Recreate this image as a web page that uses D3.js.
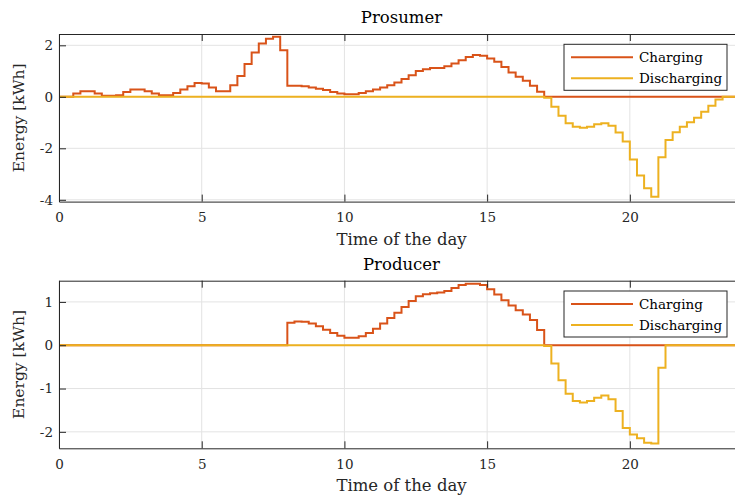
<!DOCTYPE html>
<html>
<head>
<meta charset="utf-8">
<script src="https://cdn.jsdelivr.net/npm/d3@7"></script>
<style>
  body { margin: 0; background: #fff; }
  svg { display: block; font-family: "DejaVu Serif", "Liberation Serif", serif; }
  .grid line { stroke: #e3e3e3; stroke-width: 1; }
  .tick text { fill: #262626; font-size: 13.5px; font-family: "DejaVu Serif", serif; }
</style>
</head>
<body>
<div id="vis"></div>
<script>
// energy per 15 min step, 96 steps (0 .. 23.75 h)
const hours = d3.range(96).map(i => i * 0.25);

const prosumerCharging = [
  0, 0, 0.13, 0.22, 0.22, 0.13, 0.04, 0.04, 0.06, 0.19, 0.28, 0.28, 0.22, 0.13, 0.06, 0.06,
  0.15, 0.28, 0.41, 0.54, 0.52, 0.36, 0.22, 0.22, 0.45, 0.81, 1.27, 1.72, 2.07, 2.26, 2.33, 1.81,
  0.43, 0.43, 0.41, 0.36, 0.31, 0.26, 0.19, 0.13, 0.10, 0.10, 0.15, 0.22, 0.28, 0.36, 0.45, 0.56,
  0.69, 0.84, 1.00, 1.07, 1.12, 1.12, 1.19, 1.29, 1.42, 1.55, 1.62, 1.60, 1.49, 1.36, 1.16, 0.94,
  0.78, 0.62, 0.43, 0.20, 0, 0, 0, 0, 0, 0, 0, 0, 0, 0, 0, 0,
  0, 0, 0, 0, 0, 0, 0, 0, 0, 0, 0, 0, 0, 0, 0, 0
];
const prosumerDischarging = [
  0, 0, 0, 0, 0, 0, 0, 0, 0, 0, 0, 0, 0, 0, 0, 0,
  0, 0, 0, 0, 0, 0, 0, 0, 0, 0, 0, 0, 0, 0, 0, 0,
  0, 0, 0, 0, 0, 0, 0, 0, 0, 0, 0, 0, 0, 0, 0, 0,
  0, 0, 0, 0, 0, 0, 0, 0, 0, 0, 0, 0, 0, 0, 0, 0,
  0, 0, 0, 0, -0.04, -0.39, -0.74, -1.03, -1.16, -1.20, -1.16, -1.07, -1.03, -1.12, -1.39, -1.74,
  -2.43, -3.06, -3.55, -3.88, -2.35, -1.68, -1.38, -1.16, -0.99, -0.81, -0.58, -0.35, -0.10, 0, 0, 0
];
const producerCharging = [
  0, 0, 0, 0, 0, 0, 0, 0, 0, 0, 0, 0, 0, 0, 0, 0,
  0, 0, 0, 0, 0, 0, 0, 0, 0, 0, 0, 0, 0, 0, 0, 0,
  0.52, 0.55, 0.54, 0.50, 0.44, 0.36, 0.28, 0.22, 0.17, 0.17, 0.21, 0.28, 0.38, 0.50, 0.63, 0.75,
  0.88, 1.02, 1.13, 1.18, 1.20, 1.22, 1.25, 1.32, 1.39, 1.42, 1.42, 1.39, 1.29, 1.17, 1.04, 0.92,
  0.81, 0.71, 0.58, 0.35, 0, 0, 0, 0, 0, 0, 0, 0, 0, 0, 0, 0,
  0, 0, 0, 0, 0, 0, 0, 0, 0, 0, 0, 0, 0, 0, 0, 0
];
const producerDischarging = [
  0, 0, 0, 0, 0, 0, 0, 0, 0, 0, 0, 0, 0, 0, 0, 0,
  0, 0, 0, 0, 0, 0, 0, 0, 0, 0, 0, 0, 0, 0, 0, 0,
  0, 0, 0, 0, 0, 0, 0, 0, 0, 0, 0, 0, 0, 0, 0, 0,
  0, 0, 0, 0, 0, 0, 0, 0, 0, 0, 0, 0, 0, 0, 0, 0,
  0, 0, 0, 0, -0.02, -0.42, -0.81, -1.12, -1.29, -1.32, -1.29, -1.21, -1.16, -1.25, -1.52, -1.91,
  -2.06, -2.15, -2.25, -2.27, -0.52, 0, 0, 0, 0, 0, 0, 0, 0, 0, 0, 0
];

const xTicks = [0, 5, 10, 15, 20];
const seriesNames = ["Charging", "Discharging"];
const COLORS = ["#D95319", "#EDB120"];

const WIDTH = 735, HEIGHT = 498;
const MARGINS = {left: 59, right: -9};   // axes run past the right edge (xlim 0..24)
const PLOT_W = WIDTH - MARGINS.left - MARGINS.right;
const PLOT_H = 167.6;

const svg = d3.select("#vis").append("svg")
  .attr("width", WIDTH)
  .attr("height", HEIGHT);

const X_SCALE = d3.scaleLinear().domain([0, 24]).range([0, PLOT_W]);

function drawPanel(top, title, charging, discharging, yDomain, yTicks, id) {
  const Y_SCALE = d3.scaleLinear().domain(yDomain).range([PLOT_H, 0]);
  const g = svg.append("g").attr("transform", `translate(${MARGINS.left},${top})`);

  g.append("clipPath").attr("id", "clip" + id)
    .append("rect").attr("width", PLOT_W).attr("height", PLOT_H);

  // grid
  const grid = g.append("g").attr("class", "grid");
  grid.selectAll(".gx").data(xTicks).enter().append("line")
    .attr("x1", d => X_SCALE(d)).attr("x2", d => X_SCALE(d))
    .attr("y1", 0).attr("y2", PLOT_H);
  grid.selectAll(".gy").data(yTicks).enter().append("line")
    .attr("x1", 0).attr("x2", PLOT_W)
    .attr("y1", d => Y_SCALE(d)).attr("y2", d => Y_SCALE(d));

  // lines (stairs)
  const line = d3.line()
    .x(d => X_SCALE(d[0]))
    .y(d => Y_SCALE(d[1]))
    .curve(d3.curveStepAfter);

  [charging, discharging].forEach((vals, k) => {
    const pts = hours.map((h, i) => [h, vals[i]]);
    pts.push([24, vals[vals.length - 1]]);
    g.append("path")
      .datum(pts)
      .attr("clip-path", `url(#clip${id})`)
      .attr("fill", "none")
      .attr("stroke", COLORS[k])
      .attr("stroke-width", 2)
      .attr("d", line);
  });

  // axes with inward ticks
  const fmt = d => (d < 0 ? "-" + Math.abs(d) : String(d));
  g.append("g").attr("transform", `translate(0,${PLOT_H})`)
    .call(d3.axisBottom(X_SCALE).tickValues(xTicks).tickSize(-7).tickPadding(11).tickSizeOuter(0).tickFormat(fmt))
    .call(a => a.select(".domain").attr("stroke", "#262626"));
  g.append("g")
    .call(d3.axisTop(X_SCALE).tickValues(xTicks).tickSize(-7).tickSizeOuter(0).tickFormat(""))
    .call(a => a.select(".domain").attr("stroke", "#262626"));
  g.append("g")
    .call(d3.axisLeft(Y_SCALE).tickValues(yTicks).tickSize(-7).tickPadding(6).tickSizeOuter(0).tickFormat(fmt))
    .call(a => a.select(".domain").attr("stroke", "#262626"));
  g.selectAll(".tick line").attr("stroke", "#262626");

  // labels
  g.append("text")
    .attr("x", PLOT_W / 2).attr("y", -11)
    .attr("text-anchor", "middle")
    .attr("font-size", 16.5).attr("fill", "#000")
    .text(title);
  g.append("text")
    .attr("x", PLOT_W / 2).attr("y", PLOT_H + 43)
    .attr("text-anchor", "middle")
    .attr("font-size", 16.5).attr("fill", "#262626")
    .text("Time of the day");
  g.append("text")
    .attr("transform", `translate(${-35},${PLOT_H / 2}) rotate(-90)`)
    .attr("text-anchor", "middle")
    .attr("font-size", 15.5).attr("fill", "#262626")
    .text("Energy [kWh]");

  // legend
  const lg = g.append("g").attr("transform", "translate(505,10.3)");
  lg.append("rect")
    .attr("width", 163).attr("height", 46)
    .attr("fill", "#fff").attr("stroke", "#262626").attr("stroke-width", 1);
  seriesNames.forEach((name, k) => {
    const yy = 13 + k * 21;
    lg.append("line")
      .attr("x1", 7).attr("x2", 69).attr("y1", yy).attr("y2", yy)
      .attr("stroke", COLORS[k]).attr("stroke-width", 2);
    lg.append("text")
      .attr("x", 75).attr("y", yy + 5)
      .attr("font-size", 13.5).attr("fill", "#000")
      .text(name);
  });
}

drawPanel(34, "Prosumer", prosumerCharging, prosumerDischarging, [-4.07, 2.44], [-4, -2, 0, 2], 1);
drawPanel(280.7, "Producer", producerCharging, producerDischarging, [-2.38, 1.49], [-2, -1, 0, 1], 2);
</script>
</body>
</html>
